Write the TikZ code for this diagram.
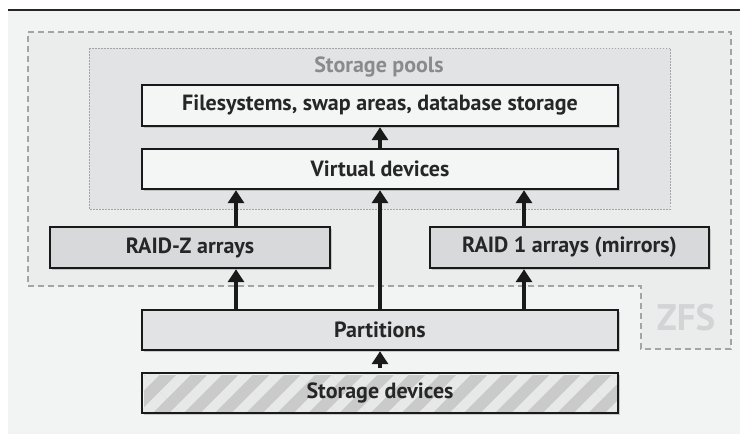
\documentclass[tikz,border=0pt]{standalone}
\usepackage{fontspec}
\setmainfont{PT Sans}
\usepackage{tikz}
\usetikzlibrary{arrows.meta, positioning, shadows, patterns.meta}

\definecolor{pagebg}{HTML}{F2F3F3}
\definecolor{zfsbg}{HTML}{EBECEC}
\definecolor{poolbg}{HTML}{E2E3E4}
\definecolor{boxwhite}{HTML}{F4F5F5}
\definecolor{raidgray}{HTML}{D8D9DA}
\definecolor{partgray}{HTML}{E2E3E4}
\definecolor{hatchdark}{HTML}{DDDEDF}
\definecolor{hatchlight}{HTML}{E7E8E8}
\definecolor{dashgray}{HTML}{A3A4A5}
\definecolor{poollabel}{HTML}{8A8B8C}
\definecolor{zfslabel}{HTML}{D3D4D5}

\tikzset{
  layer/.style={draw=black!90, line width=2.4pt, font=\fontsize{22}{24}\selectfont\bfseries,
    text=black!85, minimum height=40pt, inner sep=0pt,
    drop shadow={shadow xshift=2pt, shadow yshift=-2pt, opacity=0.35}},
  arr/.style={-{Triangle[width=16pt,length=13pt]}, line width=4.6pt, black!90}
}

\begin{document}
\begin{tikzpicture}[x=1pt,y=-1pt]
\useasboundingbox (0,0) rectangle (740,434);

% Draw the page
\fill[pagebg] (8,10) rectangle (740,434);
\draw[line width=2pt, black!85] (8,10) -- (740,10);

% ZFS region
\draw[fill=zfsbg, draw=dashgray, line width=1.6pt, dash pattern=on 6pt off 4pt]
  (28,32) -- (731,32) -- (731,349) -- (641,349) -- (641,286) -- (28,286) -- cycle;
\node[zfslabel, font=\fontsize{37}{40}\selectfont\bfseries] (zfs) at (686,318) {ZFS};

% Storage pools region
\draw[fill=poolbg, draw=dashgray, line width=0.8pt, dash pattern=on 1.5pt off 1.5pt]
  (89,48) rectangle (670,209);
\node[poollabel, font=\fontsize{22}{24}\selectfont\bfseries] (pools) at (379,67) {Storage pools};

% Draw the layers
\node[layer, fill=boxwhite, minimum width=476pt, minimum height=41pt] (fs) at (380,105.5) {Filesystems, swap areas, database storage};
\node[layer, fill=boxwhite, minimum width=476pt] (vdev) at (380,169) {Virtual devices};
\node[layer, fill=raidgray, minimum width=280pt, minimum height=41pt] (raidz) at (190,247.5) {RAID-Z arrays};
\node[layer, fill=raidgray, minimum width=279pt, minimum height=41pt] (raidone) at (569.5,247.5) {RAID 1 arrays (mirrors)};
\node[layer, fill=partgray, minimum width=476pt] (parts) at (380,330) {Partitions};
\node[layer, fill=hatchdark, pattern={Lines[angle=45, distance=22pt, line width=10pt]}, pattern color=hatchlight,
  minimum width=476pt] (devs) at (380,393) {Storage devices};

% Add the arrows
\draw[arr] (devs.north) -- (parts.south);
\draw[arr] (parts.north -| 236,0) -- (raidz.south -| 236,0);
\draw[arr] (parts.north -| 524,0) -- (raidone.south -| 524,0);
\draw[arr] (parts.north) -- (vdev.south);
\draw[arr] (raidz.north -| 236,0) -- (vdev.south -| 236,0);
\draw[arr] (raidone.north -| 524,0) -- (vdev.south -| 524,0);
\draw[arr] (vdev.north) -- (fs.south);

\end{tikzpicture}
\end{document}
